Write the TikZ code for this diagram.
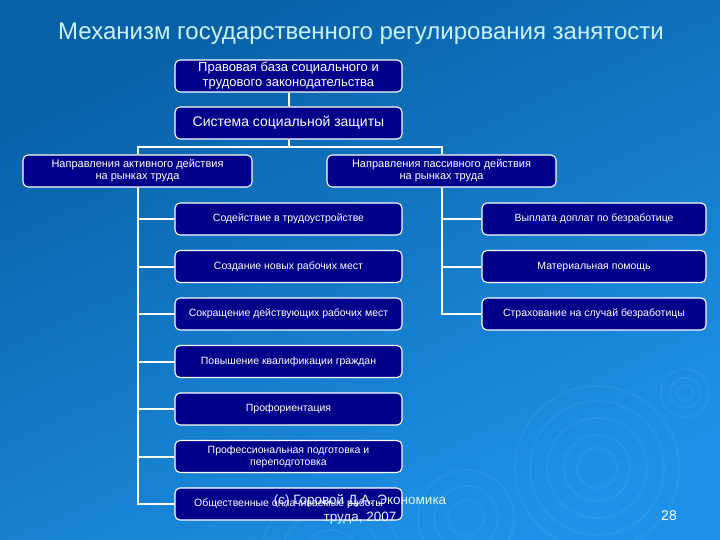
\documentclass[tikz,border=0pt]{standalone}
\usepackage{fontspec}
\setmainfont{Liberation Sans}
\usetikzlibrary{positioning}
\definecolor{bgtop}{RGB}{8,96,166}
\definecolor{bgbot}{RGB}{30,146,232}
\definecolor{boxnavy}{RGB}{0,0,138}
\definecolor{titlecyan}{RGB}{204,242,255}
\definecolor{ripple}{RGB}{120,200,255}

\begin{document}
\begin{tikzpicture}[
    x=1pt, y=-1pt,
    node distance=14.4pt,
    box/.style={rectangle, draw=white, line width=1.1pt, rounded corners=5pt, fill=boxnavy,
                text=white, minimum width=227pt, minimum height=32pt, inner sep=1pt,
                align=center, font=\fontsize{10.5}{12}\selectfont},
    headbox/.style={box, minimum width=229pt, font=\fontsize{11}{12}\selectfont},
    link/.style={draw=white, line width=2pt}
]
    % background
    \shade[top color=bgtop, bottom color=bgbot, shading angle=25] (0,0) rectangle (720,540);
    \useasboundingbox (0,0) rectangle (720,540);
    \begin{scope}[draw=ripple, opacity=0.1, line width=2pt]
        \foreach \r in {20,33,50,67,82} \draw (597,468) circle[radius=\r];
        \foreach \r in {8,15,24} \draw (685,393) circle[radius=\r];
        \foreach \r in {18,32,48} \draw (466,518) circle[radius=\r];
        \foreach \r in {30,50,70} \draw (330,560) circle[radius=\r];
    \end{scope}

    \node[text=titlecyan, font=\fontsize{24}{27}\selectfont] (title) at (361,34)
        {Механизм государственного регулирования занятости};

    \node[box, font=\fontsize{13}{15}\selectfont] (law) at (288.5,76)
        {Правовая база социального и\\трудового законодательства};
    \node[box, font=\fontsize{14}{16}\selectfont] (prot) at (288.5,123) {Система социальной защиты};
    \node[headbox] (active) at (137.5,171) {Направления активного действия\\на рынках труда};
    \node[headbox] (passive) at (441.5,171) {Направления пассивного действия\\на рынках труда};

    % active measures
    \node[box] (a1) at (288.5,219) {Содействие в трудоустройстве};
    \node[box, below=of a1] (a2) {Создание новых рабочих мест};
    \node[box, below=of a2] (a3) {Сокращение действующих рабочих мест};
    \node[box, below=of a3] (a4) {Повышение квалификации граждан};
    \node[box, below=of a4] (a5) {Профориентация};
    \node[box, below=of a5] (a6) {Профессиональная подготовка и\\переподготовка};
    \node[box, below=of a6] (a7) {Общественные оплачиваемые работы};

    % passive measures
    \node[box, minimum width=224pt] (p1) at (594,219) {Выплата доплат по безработице};
    \node[box, minimum width=224pt, below=of p1] (p2) {Материальная помощь};
    \node[box, minimum width=224pt, below=of p2] (p3) {Страхование на случай безработицы};

    \draw[link] (law) -- (prot);
    \draw[link] (prot.south) -- ++(0,7) coordinate (split) -| (active.north);
    \draw[link] (split) -| (passive.north);
    \draw[link] (active.south) |- (a7.west);
    \foreach \n in {a1,a2,a3,a4,a5,a6}
        \draw[link] (active.south |- \n.west) -- (\n.west);
    \draw[link] (passive.south) |- (p3.west);
    \foreach \n in {p1,p2}
        \draw[link] (passive.south |- \n.west) -- (\n.west);

    \node[text=titlecyan!60!white, align=center, font=\fontsize{13.5}{17}\selectfont] (credit) at (360,509)
        {(c) Горовой Д.А. Экономика\\труда, 2007};
    \node[text=white, font=\fontsize{14}{16}\selectfont] (page) at (669,516) {28};
\end{tikzpicture}
\end{document}
